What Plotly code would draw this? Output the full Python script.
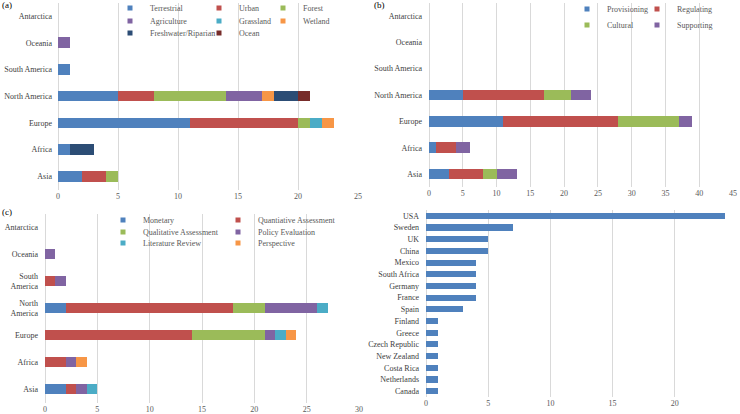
"""Four-panel summary: ecosystems, services, methods by region and studies by country."""

import plotly.graph_objects as go
from plotly.subplots import make_subplots

W, H = 740, 414
FONT = "Liberation Serif, Times New Roman, serif"
GREY = "#595959"
GRID = "#d9d9d9"

REGIONS = ["Asia", "Africa", "Europe", "North America", "South America", "Oceania", "Antarctica"]
REGIONS_WRAPPED = ["Asia", "Africa", "Europe", "North<br>America", "South<br>America", "Oceania", "Antarctica"]

# (a) ecosystem types
terrestrial = [2, 1, 11, 5, 1, 0, 0]
urban = [2, 0, 9, 3, 0, 0, 0]
forest = [1, 0, 1, 6, 0, 0, 0]
agriculture = [0, 0, 0, 3, 0, 1, 0]
grassland = [0, 0, 1, 0, 0, 0, 0]
wetland = [0, 0, 1, 1, 0, 0, 0]
freshwater = [0, 2, 0, 2, 0, 0, 0]
ocean = [0, 0, 0, 1, 0, 0, 0]

# (b) ecosystem services
provisioning = [3, 1, 11, 5, 0, 0, 0]
regulating = [5, 3, 17, 12, 0, 0, 0]
cultural = [2, 0, 9, 4, 0, 0, 0]
supporting = [3, 2, 2, 3, 0, 0, 0]

# (c) methods
monetary = [2, 0, 0, 2, 0, 0, 0]
quantitative = [1, 2, 14, 16, 1, 0, 0]
qualitative = [0, 0, 7, 3, 0, 0, 0]
policy = [1, 1, 1, 5, 1, 1, 0]
literature = [1, 0, 1, 1, 0, 0, 0]
perspective = [0, 1, 1, 0, 0, 0, 0]

# (d) countries
COUNTRIES = ["USA", "Sweden", "UK", "China", "Mexico", "South Africa", "Germany", "France",
             "Spain", "Finland", "Greece", "Czech Republic", "New Zealand", "Costa Rica",
             "Netherlands", "Canada"]
country_counts = [24, 7, 5, 5, 4, 4, 4, 4, 3, 1, 1, 1, 1, 1, 1, 1]

BLUE, RED, GREEN, PURPLE = "#4F81BD", "#C0504D", "#9BBB59", "#8064A2"
AQUA, ORANGE, NAVY, MAROON = "#4BACC6", "#F79646", "#2C4D75", "#772C2A"


def px_x(v):
    return v / W


def px_y(v):
    return 1 - v / H


def add_stack(fig, row, col, cats, name, values, color, legend, key_width):
    fig.add_trace(
        go.Bar(y=cats, x=values, orientation="h", marker=dict(color=color, line=dict(width=0)),
               showlegend=False, name=name),
        row=row, col=col,
    )
    # small square legend key, like the spreadsheet original
    fig.add_trace(
        go.Scatter(x=[None], y=[None], mode="markers", name=name, legend=legend,
                   legendwidth=key_width, marker=dict(symbol="square", size=5, color=color)),
        row=row, col=col,
    )


fig = make_subplots(rows=2, cols=2)

# name, values, colour, legend row, legend entry width
panel_a = [("Terrestrial", terrestrial, BLUE, "legend", 44), ("Urban", urban, RED, "legend", 19),
           ("Forest", forest, GREEN, "legend", 30), ("Agriculture", agriculture, PURPLE, "legend2", 44),
           ("Grassland", grassland, AQUA, "legend2", 19), ("Wetland", wetland, ORANGE, "legend2", 35),
           ("Freshwater/Riparian", freshwater, NAVY, "legend3", 44), ("Ocean", ocean, MAROON, "legend3", 30)]
for name, vals, color, leg, lw in panel_a:
    add_stack(fig, 1, 1, REGIONS, name, vals, color, leg, lw)

panel_b = [("Provisioning", provisioning, BLUE, "legend4", 25), ("Regulating", regulating, RED, "legend4", 45),
           ("Cultural", cultural, GREEN, "legend5", 25), ("Supporting", supporting, PURPLE, "legend5", 45)]
for name, vals, color, leg, lw in panel_b:
    add_stack(fig, 1, 2, REGIONS, name, vals, color, leg, lw)

panel_c = [("Monetary", monetary, BLUE, "legend6", 70),
           ("Quantiative Assessment", quantitative, RED, "legend6", 90),
           ("Qualitative Assessment", qualitative, GREEN, "legend7", 70),
           ("Policy Evaluation", policy, PURPLE, "legend7", 90),
           ("Literature Review", literature, AQUA, "legend8", 70),
           ("Perspective", perspective, ORANGE, "legend8", 90)]
for name, vals, color, leg, lw in panel_c:
    add_stack(fig, 2, 1, REGIONS_WRAPPED, name, vals, color, leg, lw)

fig.add_trace(
    go.Bar(y=COUNTRIES, x=country_counts, orientation="h", width=0.52,
           marker=dict(color=BLUE, line=dict(width=0)), showlegend=False),
    row=2, col=2,
)

# axis domains in pixels: (left, right, top, bottom), tick label standoff
domains = {
    1: (58, 358, 2.7, 189.6, 5),
    2: (429, 733, 2.8, 187.2, 6),
    3: (45, 359, 213.5, 402.5, 6),
    4: (426, 737, 210, 397, 6),
}
ranges = {1: 25, 2: 45, 3: 30, 4: 25}
for i, (l, r, t, b, standoff) in domains.items():
    sfx = "" if i == 1 else str(i)
    fig.layout["xaxis" + sfx].update(
        domain=[px_x(l), px_x(r)], range=[0, ranges[i]], dtick=5, showgrid=True, gridcolor=GRID,
        gridwidth=1, zeroline=True, zerolinecolor=GRID, zerolinewidth=1, showline=False,
        ticks="", tickfont=dict(family=FONT, size=8, color=GREY), fixedrange=True, automargin=False,
    )
    fig.layout["yaxis" + sfx].update(
        domain=[px_y(b), px_y(t)], showgrid=False, zeroline=False, showline=False, ticks="",
        tickfont=dict(family=FONT, size=8, color="#404040"), ticklabelstandoff=standoff,
        automargin=False, fixedrange=True,
    )

fig.layout.yaxis.update(categoryorder="array", categoryarray=REGIONS)
fig.layout.yaxis2.update(categoryorder="array", categoryarray=REGIONS)
fig.layout.yaxis3.update(categoryorder="array", categoryarray=REGIONS_WRAPPED)
fig.layout.yaxis4.update(categoryorder="array", categoryarray=COUNTRIES, autorange="reversed")

legend_style = dict(orientation="h", bgcolor="rgba(0,0,0,0)", traceorder="normal",
                    font=dict(family=FONT, size=8, color=GREY), xanchor="left",
                    yanchor="middle", itemwidth=30, borderwidth=0)
legend_pos = {
    "legend": (110, 8), "legend2": (110, 21), "legend3": (110, 33),
    "legend4": (567, 9), "legend5": (567, 25),
    "legend6": (103, 220), "legend7": (103, 232), "legend8": (103, 243),
}
for key, (lx, ly) in legend_pos.items():
    fig.layout[key] = dict(legend_style, x=px_x(lx), y=px_y(ly))

for label, lx, ly in [("(a)", 0, 5), ("(b)", 372, 5), ("(c)", 0, 212)]:
    fig.add_annotation(text=label, x=px_x(lx), y=px_y(ly), xref="paper", yref="paper",
                       xanchor="left", yanchor="middle", showarrow=False,
                       font=dict(family=FONT, size=9, color="#000000"))

fig.update_layout(
    width=W, height=H, autosize=False, margin=dict(l=0, r=0, t=0, b=0, autoexpand=False),
    barmode="stack", bargap=0.6, plot_bgcolor="white", paper_bgcolor="white",
    font=dict(family=FONT, size=8, color=GREY), hovermode=False,
)

# the page body has a default 8px margin; drop it so the figure fills the window
fig.write_html("out.html", config={"displayModeBar": False},
               post_script="document.body.style.margin = '0';")
